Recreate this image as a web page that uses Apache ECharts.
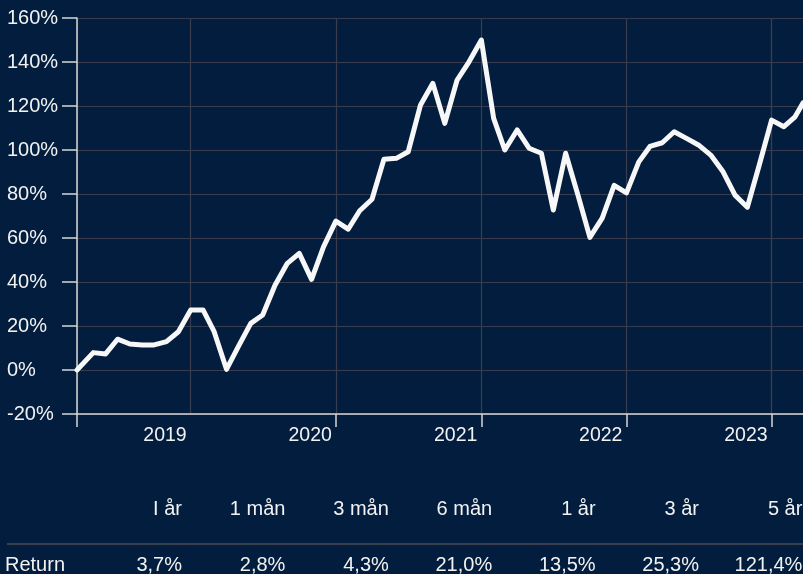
<!DOCTYPE html>
<html>
<head>
<meta charset="utf-8">
<script src="https://cdn.jsdelivr.net/npm/echarts@6/dist/echarts.min.js"></script>
<style>
  html, body { margin: 0; padding: 0; background: #021d3d; }
  #chart { width: 803px; height: 574px; }
</style>
</head>
<body>
<div id="chart"></div>
<script>
// ---- Data ----
const startDate = '2018-03-21';
const endDate = '2023-03-21';
// monthly observations (first of month) between start and end
const monthDates = [];
for (let y = 2018; y <= 2023; y++) {
  for (let m = 1; m <= 12; m++) {
    if ((y === 2018 && m < 5) || (y === 2023 && m > 3)) continue;
    monthDates.push(y + '-' + String(m).padStart(2, '0') + '-01');
  }
}
const dates = [startDate].concat(monthDates, [endDate]);
const returnsPct = [
  0, 7.9, 7.3, 14.0, 11.8, 11.4, 11.4, 12.9, 17.4, 27.3,
  27.3, 17.4, 0.3, 10.7, 21.2, 25.0, 38.5, 48.5, 53.0, 41.2,
  56.0, 67.7, 64.0, 72.4, 77.6, 95.8, 96.2, 99.2, 120.5, 130.3,
  112.1, 131.8, 140.1, 150.0, 114.4, 100.0, 109.1, 100.8, 98.5, 72.7,
  98.5, 79.5, 60.3, 69.0, 83.9, 80.5, 94.6, 101.6, 103.3, 108.3,
  105.3, 102.3, 97.7, 90.1, 79.5, 74.0, 93.2, 113.6, 110.6, 115.1,
  121.4
];
const yearTicks = ['2019-01-01', '2020-01-01', '2021-01-01', '2022-01-01', '2023-01-01'];
const yTicks = { min: -20, max: 160, step: 20 };
const tablePeriods = ['I år', '1 mån', '3 mån', '6 mån', '1 år', '3 år', '5 år'];
const tableReturns = ['3,7%', '2,8%', '4,3%', '21,0%', '13,5%', '25,3%', '121,4%'];
const tableRowLabel = 'Return';

// ---- Styling ----
const FONT = '"Liberation Sans", Arial, Helvetica, sans-serif';
const TEXT = '#f2f2f2';
const GRID = '#393d4e';
const AXIS = '#d6d6d6';

const seriesData = dates.map((d, i) => [d, returnsPct[i]]);
const toTime = s => new Date(s + 'T00:00:00').getTime();

// table as graphic text, positioned by column layout
const colRight0 = 182, colStep = 103.4;
const TFONT = '20px ' + FONT;
const graphics = [];
tablePeriods.forEach((p, i) => {
  graphics.push({
    type: 'text', x: colRight0 + colStep * i, y: 509,
    style: { text: p, fill: TEXT, font: TFONT, align: 'right', verticalAlign: 'middle', textAlign: 'right', textVerticalAlign: 'middle' }
  });
});
graphics.push({
  type: 'line', shape: { x1: 7, y1: 544, x2: 803, y2: 544 },
  style: { stroke: '#3a3f4f', lineWidth: 2 }
});
graphics.push({
  type: 'text', x: 5, y: 565,
  style: { text: tableRowLabel, fill: TEXT, font: TFONT, align: 'left', verticalAlign: 'middle', textAlign: 'left', textVerticalAlign: 'middle' }
});
tableReturns.forEach((r, i) => {
  graphics.push({
    type: 'text', x: colRight0 + colStep * i, y: 565,
    style: { text: r, fill: TEXT, font: TFONT, align: 'right', verticalAlign: 'middle', textAlign: 'right', textVerticalAlign: 'middle' }
  });
});

const chart = echarts.init(document.getElementById('chart'), null, { renderer: 'canvas' });
chart.setOption({
  backgroundColor: '#021d3d',
  animation: false,
  grid: { left: 77, top: 18, right: 0, bottom: 160, containLabel: false },
  xAxis: {
    type: 'time',
    min: startDate,
    max: endDate,
    axisLine: { show: true, onZero: false, lineStyle: { color: AXIS, width: 1.5 } },
    axisTick: {
      show: true, length: 13, lineStyle: { color: AXIS, width: 1.5 },
      customValues: [toTime(startDate)].concat(yearTicks.map(toTime))
    },
    splitLine: { show: true, lineStyle: { color: GRID, width: 1.2 } },
    axisLabel: {
      formatter: '{yyyy}',
      customValues: yearTicks.map(toTime),
      color: TEXT, fontSize: 19.5, fontFamily: FONT,
      align: 'right', padding: [0, 4, 0, 0], margin: 12,
      showMinLabel: false, showMaxLabel: false
    }
  },
  yAxis: {
    type: 'value',
    min: yTicks.min, max: yTicks.max, interval: yTicks.step,
    axisLine: { show: true, lineStyle: { color: AXIS, width: 1.5 } },
    axisTick: { show: true, length: 15, lineStyle: { color: AXIS, width: 1.5 } },
    splitLine: { show: true, lineStyle: { color: GRID, width: 1.2 } },
    axisLabel: {
      formatter: '{value}%',
      color: TEXT, fontSize: 20, fontFamily: FONT,
      align: 'left', margin: 70
    }
  },
  series: [{
    type: 'line',
    data: seriesData,
    showSymbol: false,
    symbol: 'none',
    lineStyle: { color: '#f7f7f7', width: 5, join: 'round', cap: 'round' },
    z: 5
  }],
  graphic: graphics
});
</script>
</body>
</html>
